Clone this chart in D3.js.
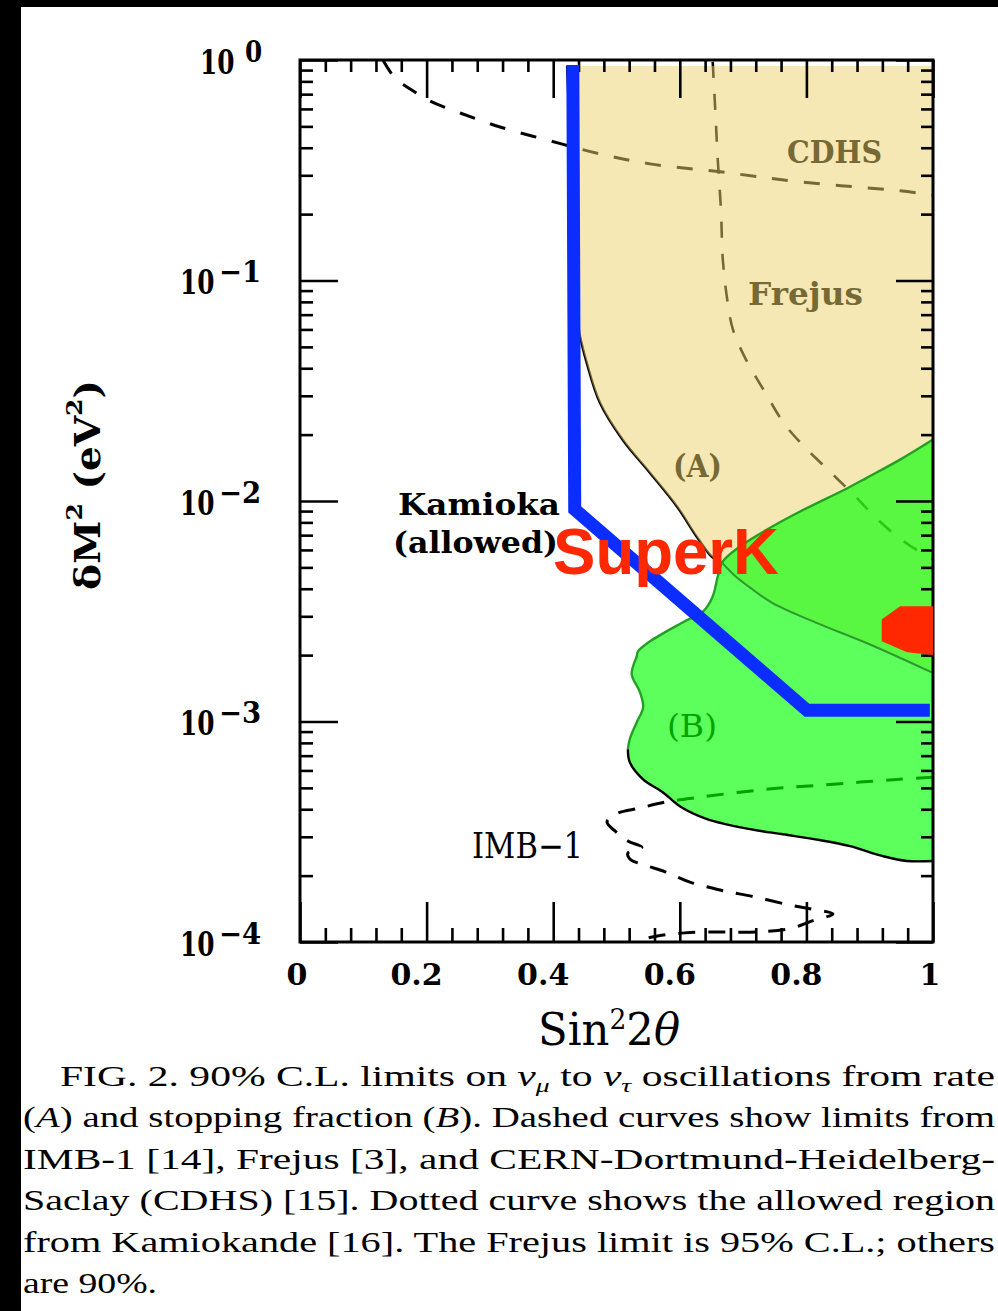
<!DOCTYPE html>
<html><head><meta charset="utf-8">
<script src="https://cdn.jsdelivr.net/npm/d3@7"></script>
<style>
html,body{margin:0;padding:0;background:#fff;}
svg{display:block;}
</style></head>
<body>
<svg id="chart" width="998" height="1311"></svg>
<script>
// ================= DATA =================
const xTickValues = [0, 0.2, 0.4, 0.6, 0.8, 1];
const xTickLabels = ["0", "0.2", "0.4", "0.6", "0.8", "1"];
const yDecadeExponents = [0, -1, -2, -3, -4];

// Region (A): rate limit. Left edge (top -> bottom), lower edge (left -> right). [sin^2 2theta, dM^2]
const regionA_left = [[0.422,0.94],[0.427,0.391],[0.431,0.138],[0.436,0.0735],[0.442,0.0566],[0.453,0.0423],[0.474,0.0278],[0.510,0.0189],[0.553,0.0134],[0.596,0.0094],[0.627,0.00687],[0.651,0.00557],[0.667,0.00524]];
const regionA_bottom = [[0.667,0.00524],[0.686,0.00461],[0.710,0.00407],[0.746,0.00345],[0.816,0.0028],[0.895,0.00227],[1.0,0.00166]];
const regionA_topRight = [[1.0,0.94]];

// Region (B): stopping fraction. Upper/left edge from right edge, then lower edge to right edge.
const regionB_upper = [[1.0,0.0190],[0.948,0.0154],[0.896,0.01277],[0.864,0.0114],[0.790,0.00896],[0.738,0.00743],[0.695,0.00622],[0.668,0.00532],[0.660,0.00455],[0.652,0.00369],[0.637,0.00316],[0.605,0.00282],[0.553,0.00231],[0.534,0.00208],[0.532,0.00198],[0.524,0.00164],[0.537,0.00136],[0.542,0.00116],[0.532,0.000993],[0.521,0.000832],[0.518,0.000749]];
const regionB_lower = [[0.518,0.000749],[0.521,0.000654],[0.542,0.000547],[0.573,0.000478],[0.600,0.000413],[0.643,0.000361],[0.711,0.000325],[0.763,0.000308],[0.821,0.000290],[0.869,0.000272],[0.921,0.000245],[0.959,0.000233],[1.0,0.000233]];

// Dashed limit curves
const cdhsCurve = [[0.131,1.0],[0.150,0.829],[0.174,0.739],[0.205,0.652],[0.253,0.575],[0.316,0.497],[0.395,0.430],[0.474,0.375],[0.553,0.338],[0.664,0.311],[0.790,0.280],[0.948,0.255],[1.0,0.244]];
const frejusCurve = [[0.652,0.98],[0.656,0.594],[0.660,0.352],[0.665,0.209],[0.668,0.124],[0.675,0.0818],[0.684,0.0598],[0.703,0.0447],[0.735,0.0310],[0.766,0.0222],[0.798,0.0175],[0.837,0.0136],[0.877,0.0105],[0.916,0.00807],[0.956,0.00649],[1.0,0.00543]];
const imbCurve = [[1.0,0.000559],[0.948,0.000547],[0.885,0.000531],[0.821,0.000514],[0.758,0.000499],[0.695,0.000478],[0.632,0.000454],[0.577,0.000431],[0.537,0.000405],[0.498,0.000380],[0.485,0.000350],[0.498,0.000318],[0.518,0.000287],[0.540,0.000269],[0.518,0.000253],[0.521,0.000238],[0.545,0.000223],[0.577,0.000208],[0.616,0.000187],[0.664,0.000172],[0.719,0.000160],[0.774,0.000147],[0.809,0.000141],[0.842,0.000134],[0.810,0.000125],[0.774,0.000115],[0.719,0.000111],[0.664,0.000111],[0.608,0.000110],[0.561,0.000106],[0.537,0.000102]];

// SuperK overlay
const superKLine = [[0.431,0.949],[0.434,0.00916],[0.801,0.001124],[0.995,0.001124]];
const superKBlob = [[0.919,0.00290],[0.948,0.00333],[1.0,0.00333],[1.0,0.00200],[0.959,0.00206],[0.919,0.00231]];

const captionLines = [
  [["FIG. 2.  90% C.L. limits on ",""],["ν","i"],["μ","isub"],[" to ",""],["ν","i"],["τ","isub"],[" oscillations from rate",""]],
  [["(",""],["A","i"],[") and stopping fraction (",""],["B","i"],[").  Dashed curves show limits from",""]],
  [["IMB-1  [14],  Frejus  [3],  and  CERN-Dortmund-Heidelberg-",""]],
  [["Saclay (CDHS) [15].  Dotted curve shows the allowed region",""]],
  [["from Kamiokande [16].  The Frejus limit is 95% C.L.; others",""]],
  [["are 90%.",""]]
];

// ================= CHART =================
const svg = d3.select("#chart");
svg.append("rect").attr("width",998).attr("height",1311).attr("fill","#fff");

const x = d3.scaleLinear().domain([0,1]).range([300,933]);
const y = d3.scaleLog().domain([1e-4,1]).range([942,60]);
const smooth = d3.line().x(d=>x(d[0])).y(d=>y(d[1])).curve(d3.curveCatmullRom.alpha(0.5));
const straight = d3.line().x(d=>x(d[0])).y(d=>y(d[1]));
const cont = p => p.replace(/^M/, "L");

const serif = "'DejaVu Serif', serif";

// ---- line art underneath the colour layers ----
const under = svg.append("g");
under.append("path").attr("d", smooth(cdhsCurve)).attr("fill","none").attr("stroke","#000")
  .attr("stroke-width",3).attr("stroke-dasharray","16,16");
under.append("path").attr("d", smooth(frejusCurve)).attr("fill","none").attr("stroke","#000")
  .attr("stroke-width",2.6).attr("stroke-dasharray","16,16");
under.append("path").attr("d", smooth(imbCurve)).attr("fill","none").attr("stroke","#000")
  .attr("stroke-width",3).attr("stroke-dasharray","17,13");
under.append("path").attr("d", smooth(regionA_left)).attr("fill","none").attr("stroke","#000").attr("stroke-width",2.5);

function label(g, txt, x0, base, size, len, weight, color){
  return g.append("text").attr("x",x0).attr("y",base).attr("font-family",serif)
    .attr("font-size",size).attr("font-weight",weight||"bold").attr("fill",color||"#000")
    .attr("textLength",len).attr("lengthAdjust","spacingAndGlyphs").text(txt);
}
label(under,"CDHS",787,163,32,95);
label(under,"Frejus",748,305,32,115);
label(under,"(A)",673,477,32,49);
label(under,"(B)",667,737,32,50,"normal");

// ---- tan region (A) ----
const pathA = smooth(regionA_left) + cont(smooth(regionA_bottom)) + cont(straight(regionA_topRight)) + "Z";
svg.append("path").attr("d", pathA).attr("fill","rgb(235,209,105)").attr("fill-opacity",0.5);

// ---- green region (B) ----
const pathB = smooth(regionB_upper.concat(regionB_lower.slice(1))) + "Z";
svg.append("path").attr("d", pathB).attr("fill","rgb(0,255,0)").attr("fill-opacity",0.64);

// outlines over colour
svg.append("path").attr("d", smooth(regionA_bottom)).attr("fill","none").attr("stroke","#2e9a2e").attr("stroke-width",2);
svg.append("path").attr("d", smooth(regionB_upper)).attr("fill","none").attr("stroke","#23a023").attr("stroke-width",2.4);
svg.append("path").attr("d", smooth(regionB_lower)).attr("fill","none").attr("stroke","#000").attr("stroke-width",2.4);

// ---- frame & ticks ----
const xMinor = d3.range(1,25).map(i=>i*0.04).filter(v=>Math.abs(v/0.2-Math.round(v/0.2))>1e-6);
const yMajor = yDecadeExponents.map(e=>Math.pow(10,e));
const yMinor = [];
[-4,-3,-2,-1].forEach(e=>{ for(let k=2;k<=9;k++) yMinor.push(k*Math.pow(10,e)); });

function styleAxis(g){
  g.select(".domain").remove();
  g.selectAll(".tick text").remove();
  g.selectAll(".tick line").attr("stroke","#000").attr("stroke-width",2.6);
}
const axes = svg.append("g");
axes.append("g").attr("transform","translate(0,942)").call(d3.axisBottom(x).tickValues(xTickValues).tickSize(-40)).call(styleAxis);
axes.append("g").attr("transform","translate(0,942)").call(d3.axisBottom(x).tickValues(xMinor).tickSize(-14)).call(styleAxis);
axes.append("g").attr("transform","translate(0,60)").call(d3.axisTop(x).tickValues(xTickValues).tickSize(-38)).call(styleAxis);
axes.append("g").attr("transform","translate(0,60)").call(d3.axisTop(x).tickValues(xMinor).tickSize(-12)).call(styleAxis);
axes.append("g").attr("transform","translate(300,0)").call(d3.axisLeft(y).tickValues(yMajor).tickSize(-38)).call(styleAxis);
axes.append("g").attr("transform","translate(300,0)").call(d3.axisLeft(y).tickValues(yMinor).tickSize(-13)).call(styleAxis);
axes.append("g").attr("transform","translate(933,0)").call(d3.axisRight(y).tickValues(yMajor).tickSize(-37)).call(styleAxis);
axes.append("g").attr("transform","translate(933,0)").call(d3.axisRight(y).tickValues(yMinor).tickSize(-12)).call(styleAxis);
svg.append("rect").attr("x",x(0)).attr("y",y(1)).attr("width",x(1)-x(0)).attr("height",y(1e-4)-y(1))
  .attr("fill","none").attr("stroke","#000").attr("stroke-width",3);

// ---- SuperK overlay ----
svg.append("path").attr("d", straight(superKLine)).attr("fill","none").attr("stroke","#0b2dff")
  .attr("stroke-width",13).attr("stroke-linejoin","miter");
svg.append("path").attr("d", straight(superKBlob)+"Z").attr("fill","#ff2800");

// ---- tick labels ----
xTickValues.forEach((v,i)=>{
  const off = (i===0||i===xTickValues.length-1) ? -3 : -10;
  svg.append("text").attr("x",x(v)+off).attr("y",985).attr("text-anchor","middle")
    .attr("font-family",serif).attr("font-weight","bold").attr("font-size",30).text(xTickLabels[i]);
});
yDecadeExponents.forEach(e=>{
  const py = y(Math.pow(10,e));
  const startTen = e===0 ? 200 : 180;
  // condensed "10" (horizontal scale) so its box matches the glyphs
  svg.append("text").attr("transform",`translate(${startTen},${py+13.5}) scale(0.75,1)`)
    .attr("font-family",serif).attr("font-weight","bold").attr("font-size",33).text("10");
  const sup = e===0 ? "0" : "\u2212"+Math.abs(e);
  svg.append("text").attr("transform",`translate(${e===0?245:219},${py+1.5}) scale(${e===0?0.85:0.95},1)`)
    .attr("font-family",serif).attr("font-weight","bold").attr("font-size",29).text(sup);
});

// ---- axis titles ----
const xt = svg.append("text").attr("x",538).attr("y",1045).attr("font-family",serif).attr("font-size",44)
  .attr("textLength",142).attr("lengthAdjust","spacingAndGlyphs");
xt.append("tspan").text("Sin");
xt.append("tspan").attr("font-size",27).attr("dy",-16).text("2");
xt.append("tspan").attr("dy",16).text("2");
xt.append("tspan").attr("font-style","italic").text("θ");

const yt = svg.append("text").attr("transform","translate(100,485) rotate(-90)").attr("text-anchor","middle")
  .attr("font-family",serif).attr("font-size",36).attr("font-weight","bold")
  .attr("textLength",210).attr("lengthAdjust","spacingAndGlyphs");
yt.append("tspan").text("δM");
yt.append("tspan").attr("font-size",23).attr("dy",-18).text("2");
yt.append("tspan").attr("dy",18).text(" (eV");
yt.append("tspan").attr("font-size",23).attr("dy",-18).text("2");
yt.append("tspan").attr("dy",18).text(")");

// ---- annotations ----
label(svg,"Kamioka",398,515,30,162);
label(svg,"(allowed)",393,553,30,165);
label(svg,"IMB\u22121",472,858,35,111,"normal");
svg.append("text").attr("x",553).attr("y",574).attr("font-family","'Liberation Sans', Arial, sans-serif")
  .attr("font-weight","bold").attr("font-size",64).attr("fill","#ff2800")
  .attr("textLength",226).attr("lengthAdjust","spacingAndGlyphs").text("SuperK");

// ---- caption ----
const capStarts = [60,23,23,23,23,23];
const capBase = [1086,1127,1169,1210,1252,1293];
captionLines.forEach((parts,i)=>{
  const t = svg.append("text").attr("x",capStarts[i]).attr("y",capBase[i])
    .attr("font-family","'Liberation Serif', 'Times New Roman', serif").attr("font-size",28.5).attr("fill","#000");
  if(i<5) t.attr("textLength",995-capStarts[i]).attr("lengthAdjust","spacingAndGlyphs");
  else t.attr("textLength",134).attr("lengthAdjust","spacingAndGlyphs");
  let shifted = false;
  parts.forEach(([s,st])=>{
    const sp = t.append("tspan").text(s);
    if(st==="i"||st==="isub") sp.attr("font-style","italic");
    if(st==="isub"){ sp.attr("font-size",19).attr("dy",6); shifted = true; }
    else if(shifted){ sp.attr("dy",-6); shifted = false; }
  });
});

// ---- page border ----
svg.append("rect").attr("x",0).attr("y",0).attr("width",998).attr("height",7).attr("fill","#000");
svg.append("rect").attr("x",0).attr("y",0).attr("width",21).attr("height",1311).attr("fill","#000");
</script>
</body></html>
